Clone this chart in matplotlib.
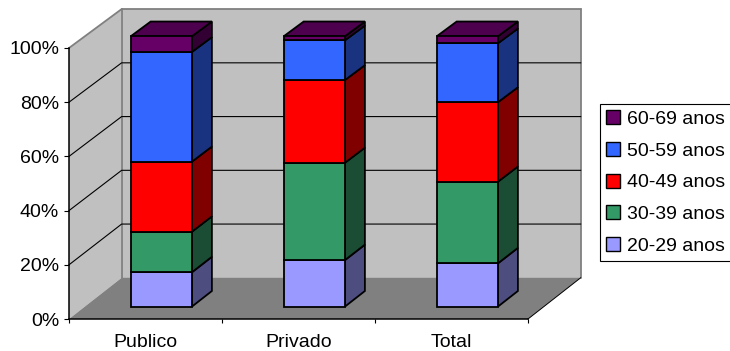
import matplotlib
matplotlib.use("Agg")
import matplotlib.pyplot as plt
from matplotlib.patches import Polygon, Patch
from matplotlib.colors import to_rgb

plt.rcParams.update({
    "font.family": ["Liberation Sans", "DejaVu Sans"],
    "font.size": 14,
})

# ── Data (percent of staff per age group) ────────────────────────────────────
categories = ["Publico", "Privado", "Total"]
age_groups = ["20-29 anos", "30-39 anos", "40-49 anos", "50-59 anos", "60-69 anos"]
publico = [12.7, 15.0, 25.9, 40.6, 5.8]
privado = [17.2, 36.0, 30.6, 14.7, 1.5]
total   = [16.0, 30.2, 29.4, 21.8, 2.6]
shares = [publico, privado, total]

colors = ["#9999FF", "#339966", "#FF0000", "#3366FF", "#660066"]

# ── 3D-ish geometry (oblique projection in data units) ──────────────────────
DX, DY = 0.344, 15.2      # shift of the back plane
SHRINK = 0.0084           # slight perspective on the back plane
T0, T1 = 0.30, 0.68       # bar depth range
BAR_W = 0.40
WALL = "#C0C0C0"
FLOOR = "#808080"
EDGE_GRAY = "#808080"


def proj(x, v, t):
    return (x + DX * t, v * (1 - SHRINK * t) + DY * t)


def shade(c, f):
    r, g, b = to_rgb(c)
    return (r * f, g * f, b * f)


fig = plt.figure(figsize=(7.3, 3.51), dpi=100)
ax = fig.add_axes([69 / 730, 32 / 351, 459 / 730, 271 / 351])
ax.set_xlim(0, len(categories))
ax.set_ylim(0, 100)
ax.patch.set_visible(False)


def poly(pts, fc, ec="black", lw=1.3, z=1):
    ax.add_patch(Polygon(pts, closed=True, facecolor=fc, edgecolor=ec,
                         linewidth=lw, zorder=z, clip_on=False,
                         joinstyle="miter"))


n = len(categories)
# walls and floor
poly([proj(0, 0, 1), proj(n, 0, 1), proj(n, 100, 1), proj(0, 100, 1)],
     WALL, ec="none", z=0.5)
poly([proj(0, 0, 0), proj(0, 100, 0), proj(0, 100, 1), proj(0, 0, 1)],
     WALL, ec="none", z=0.5)
poly([proj(0, 0, 0), proj(n, 0, 0), proj(n, 0, 1), proj(0, 0, 1)],
     FLOOR, ec="none", z=0.6)

# wall outlines
for a, b in [((0, 100, 0), (0, 100, 1)), ((0, 100, 1), (n, 100, 1)),
             ((n, 100, 1), (n, 0, 1)), ((0, 100, 1), (0, 0, 1))]:
    pa, pb = proj(*a), proj(*b)
    ax.plot([pa[0], pb[0]], [pa[1], pb[1]], color=EDGE_GRAY, lw=1.3,
            zorder=0.8, clip_on=False, solid_capstyle="round")
pa, pb = proj(n, 0, 0), proj(n, 0, 1)
ax.plot([pa[0], pb[0]], [pa[1], pb[1]], color="black", lw=0.7,
        zorder=0.8, clip_on=False)

# gridlines on the back and side walls
for v in range(20, 100, 20):
    p0, p1, p2 = proj(0, v, 0), proj(0, v, 1), proj(n, v, 1)
    ax.plot([p0[0], p1[0], p2[0]], [p0[1], p1[1], p2[1]], color="black",
            lw=0.8, zorder=0.9, clip_on=False)

# stacked boxes
for i, vals in enumerate(shares):
    x0 = i + 0.5 - BAR_W / 2
    x1 = i + 0.5 + BAR_W / 2
    base = 0.0
    for j, (val, col) in enumerate(zip(vals, colors)):
        lo, hi = base, base + val
        poly([proj(x1, lo, T0), proj(x1, lo, T1), proj(x1, hi, T1), proj(x1, hi, T0)],
             shade(col, 0.5), z=3)
        poly([proj(x0, lo, T0), proj(x1, lo, T0), proj(x1, hi, T0), proj(x0, hi, T0)],
             col, z=3.1)
        if j == len(vals) - 1:
            poly([proj(x0, hi, T0), proj(x1, hi, T0), proj(x1, hi, T1), proj(x0, hi, T1)],
                 shade(col, 0.75), z=3)
        base = hi

# axes
for s in ["top", "right"]:
    ax.spines[s].set_visible(False)
for s in ["left", "bottom"]:
    ax.spines[s].set_linewidth(1.1)
    ax.spines[s].set_zorder(2)

ax.set_yticks(range(0, 101, 20))
ax.set_yticklabels([f"{v}%" for v in range(0, 101, 20)])
ax.tick_params(axis="y", length=3.6, width=0.8, pad=3.5, labelsize=14)

ax.set_xticks(range(n + 1))
ax.set_xticklabels([])
ax.set_xticks([i + 0.5 for i in range(n)], minor=True)
ax.set_xticklabels(categories, minor=True)
ax.tick_params(axis="x", which="major", length=3, width=0.8)
ax.tick_params(axis="x", which="minor", length=0, pad=10.5, labelsize=14)

# legend, top entry = oldest group
handles = [Patch(facecolor=c, edgecolor="black", linewidth=1.0, label=l)
           for c, l in zip(colors, age_groups)][::-1]
fig.legend(handles=handles, loc="center left",
           bbox_to_anchor=(600 / 730, 1 - 182.5 / 351),
           frameon=True, fancybox=False, edgecolor="black", framealpha=1,
           fontsize=14, handlelength=0.72, handleheight=0.72,
           handletextpad=0.35, labelspacing=0.72, borderpad=0.3,
           borderaxespad=0.0).get_frame().set_linewidth(0.8)

fig.savefig("out.png", dpi=100, facecolor="white")
